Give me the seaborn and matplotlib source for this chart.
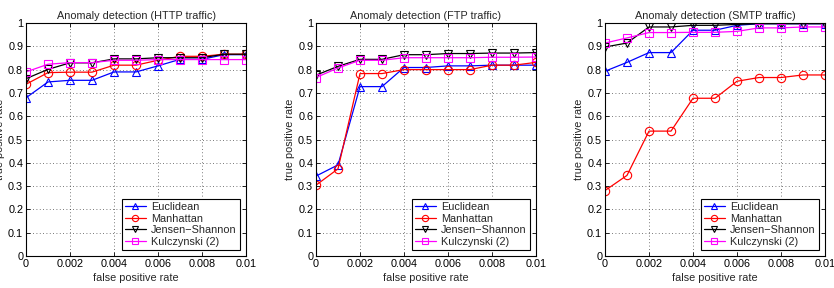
import matplotlib
matplotlib.use("Agg")
import matplotlib.pyplot as plt
import seaborn as sns
import numpy as np
import pandas as pd

fpr = [0.0, 0.001, 0.002, 0.003, 0.004, 0.005, 0.006, 0.007, 0.008, 0.009, 0.01]

methods = ["Euclidean", "Manhattan", "Jensen\u2212Shannon", "Kulczynski (2)"]
colors = ["#0000ff", "#ff0000", "#000000", "#ff00ff"]
markers = ["^", "o", "v", "s"]

titles = ["Anomaly detection (HTTP traffic)",
          "Anomaly detection (FTP traffic)",
          "Anomaly detection (SMTP traffic)"]

http_euclid = [0.679, 0.747, 0.754, 0.754, 0.790, 0.790, 0.816, 0.844, 0.844, 0.864, 0.864]
http_manh = [0.737, 0.787, 0.789, 0.789, 0.819, 0.819, 0.840, 0.857, 0.857, 0.866, 0.866]
http_js = [0.761, 0.801, 0.829, 0.829, 0.846, 0.846, 0.851, 0.851, 0.851, 0.866, 0.866]
http_kulc = [0.790, 0.823, 0.830, 0.830, 0.840, 0.840, 0.843, 0.843, 0.843, 0.843, 0.843]

ftp_euclid = [0.343, 0.391, 0.727, 0.727, 0.809, 0.809, 0.816, 0.816, 0.819, 0.819, 0.819]
ftp_manh = [0.304, 0.374, 0.783, 0.783, 0.800, 0.800, 0.800, 0.800, 0.819, 0.819, 0.831]
ftp_js = [0.776, 0.814, 0.844, 0.844, 0.864, 0.864, 0.869, 0.869, 0.871, 0.871, 0.873]
ftp_kulc = [0.766, 0.807, 0.840, 0.840, 0.851, 0.851, 0.851, 0.851, 0.853, 0.853, 0.854]

smtp_euclid = [0.793, 0.831, 0.873, 0.873, 0.969, 0.969, 0.990, 0.997, 0.997, 0.997, 0.997]
smtp_manh = [0.281, 0.346, 0.536, 0.536, 0.677, 0.677, 0.750, 0.766, 0.766, 0.777, 0.777]
smtp_js = [0.897, 0.914, 0.983, 0.983, 0.990, 0.990, 0.994, 0.997, 0.997, 0.997, 0.997]
smtp_kulc = [0.914, 0.936, 0.959, 0.959, 0.960, 0.960, 0.964, 0.979, 0.979, 0.983, 0.983]

panels = [
    [http_euclid, http_manh, http_js, http_kulc],
    [ftp_euclid, ftp_manh, ftp_js, ftp_kulc],
    [smtp_euclid, smtp_manh, smtp_js, smtp_kulc],
]

sns.set_theme(style="white")
plt.rcParams["font.family"] = ["Liberation Sans", "DejaVu Sans"]
plt.rcParams["axes.unicode_minus"] = True

fig = plt.figure(figsize=(8.34, 2.88), dpi=100)
lefts = [26, 316, 605]
fs = 7.8

for k, series in enumerate(panels):
    ax = fig.add_axes([lefts[k] / 834, 1 - 256 / 288, 220 / 834, 233 / 288])
    for name, vals, c, m in zip(methods, series, colors, markers):
        df = pd.DataFrame({"fpr": fpr, "tpr": vals})
        sns.lineplot(data=df, x="fpr", y="tpr", ax=ax, color=c, marker=m,
                     markersize=6, mfc="none", mec=c, mew=0.8, lw=0.9,
                     label=name)
    ax.set_xlim(0, 0.01)
    ax.set_ylim(0, 1)
    ax.set_xticks(np.arange(0, 0.0101, 0.002))
    ax.set_xticklabels(["0", "0.002", "0.004", "0.006", "0.008", "0.01"])
    ax.set_yticks(np.arange(0, 1.01, 0.1))
    ax.set_yticklabels(["0"] + [f"{v:.1f}" for v in np.arange(0.1, 0.95, 0.1)] + ["1"])
    ax.grid(True, color="black", linestyle=(0, (1, 3)), linewidth=0.6, alpha=0.7)
    ax.tick_params(direction="in", length=3, width=0.6, labelsize=fs,
                   top=True, right=True, bottom=True, left=True, pad=2,
                   colors="black")
    for s in ax.spines.values():
        s.set_color("black")
        s.set_linewidth(0.8)
    ax.set_xlabel("false positive rate", fontsize=fs, labelpad=3)
    ax.set_ylabel("true positive rate", fontsize=fs, labelpad=2)
    ax.set_title(titles[k], fontsize=fs, pad=3)
    leg = ax.legend(loc="lower right", fontsize=fs, frameon=True, fancybox=False,
                    edgecolor="black", borderpad=0.25, labelspacing=0.15,
                    handlelength=1.9, borderaxespad=0.6, handletextpad=0.5,
                    markerscale=0.75)
    leg.get_frame().set_linewidth(0.8)
    leg.get_frame().set_alpha(1)

fig.savefig("out.png", dpi=100)
